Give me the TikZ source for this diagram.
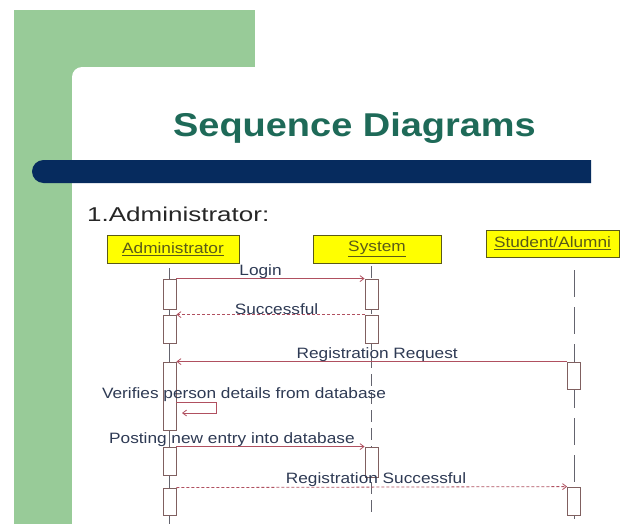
\documentclass[tikz,border=0pt]{standalone}
\usepackage{fontspec}
\setmainfont{Liberation Sans}
\newfontfamily\widesans[FakeStretch=1.15]{Liberation Sans}
\newfontfamily\widersans[FakeStretch=1.3]{Liberation Sans}
\usetikzlibrary{arrows.meta}
\tikzset{>={Straight Barb[length=4pt,width=6pt]}}
\definecolor{slgreen}{RGB}{152,203,152}
\definecolor{slnavy}{RGB}{6,43,94}
\definecolor{ttl}{RGB}{30,106,88}
\definecolor{ylw}{RGB}{255,255,0}
\definecolor{olv}{RGB}{90,90,24}
\definecolor{msgc}{RGB}{176,80,96}
\definecolor{actc}{RGB}{128,96,96}
\definecolor{txtc}{RGB}{46,58,84}
\definecolor{lifec}{RGB}{100,100,110}
\tikzset{head/.style={draw=olv, fill=ylw, line width=.8pt, inner sep=0pt,
  font=\widesans\fontsize{15}{15}\selectfont, text=olv}}
\tikzset{act/.style={draw=actc, fill=white, line width=.8pt, minimum width=13pt, inner sep=0pt}}
\tikzset{msg/.style={draw=msgc, line width=.8pt, ->}}
\tikzset{ret/.style={msg, dash pattern=on 3pt off 2pt}}
\tikzset{lbl/.style={text=txtc, font=\widesans\fontsize{15}{15}\selectfont, inner sep=0pt, above}}
\newcommand{\actbox}[4]{
	\node[act, minimum height=#4] (#1) at (#2, #3) {}
}

\begin{document}
\begin{tikzpicture}[x=1pt, y=-1pt]
    \useasboundingbox (0, 0) rectangle (621, 524);
    \fill[white] (0, 0) rectangle (621, 524);
    % slide frame
    \fill[slgreen] (14, 10) rectangle (255, 67);
    \fill[slgreen] (14, 10) rectangle (72, 524);
    \fill[slgreen] (72, 67) rectangle (82, 77);
    \fill[white] (82, 77) circle (10);
    \fill[slnavy] (591, 160) -- (43.5, 160) arc[start angle=270, end angle=90, radius=11.5] -- (591, 183) -- cycle;
    \node[text=ttl, font=\widesans\bfseries\fontsize{33}{33}\selectfont, anchor=base] (title) at (354.5, 137) {Sequence Diagrams};
    \node[text=black!85, font=\widersans\fontsize{20}{20}\selectfont, anchor=base west, inner sep=0pt] (sect) at (87, 221) {1.Administrator:};
    % lifelines
    \node[head, minimum width=132, minimum height=28] (admin) at (173, 249) {\underline{Administrator}};
    \node[head, minimum width=128, minimum height=28] (sys) at (377, 249) {\underline{System}};
    \node[head, minimum width=133, minimum height=27] (stud) at (552.5, 243.5) {\underline{Student/Alumni}};
    \coordinate (admtop) at (169.5, 268);
    \coordinate (admbot) at (169.5, 524);
    \coordinate (systop) at (371.5, 266);
    \coordinate (sysbot) at (371.5, 516);
    \coordinate (studtop) at (574, 270);
    \coordinate (studbot) at (574, 524);
    \draw[lifec, line width=.7pt] (admtop) -- (admbot);
    \draw[lifec, line width=.7pt, dash pattern=on 12pt off 6pt] (systop) -- (sysbot);
    \draw[lifec, line width=.7pt, dash pattern=on 27pt off 10pt] (studtop) -- (studbot);
    % activations
    \actbox{a1}{169.5}{294}{30};
    \actbox{a2}{169.5}{329}{28};
    \actbox{a3}{169.5}{396}{68};
    \actbox{a4}{169.5}{461}{28};
    \actbox{a5}{169.5}{501.5}{27};
    \actbox{s1}{371.5}{294}{30};
    \actbox{s2}{371.5}{329}{28};
    \actbox{s3}{371.5}{462}{30};
    \actbox{st1}{574}{375.5}{27};
    \actbox{st2}{574}{501}{28};
    % messages
    \draw[msg] (a1.north east) -- node[lbl, pos=.447]{Login} (s1.north west);
    \draw[ret] (s2.north west) -- node[lbl, pos=.468]{Successful} (a2.north east);
    \draw[msg] (st1.north west) -- node[lbl, pos=.486]{Registration Request} (a3.north east);
    \node[lbl, anchor=base] (vlbl) at (244, 398) {Verifies person details from database};
    \coordinate (sv1) at (216, 402);
    \coordinate (sv2) at (216, 413);
    \coordinate (sv3) at (182, 413);
    \draw[msg] (a3.east |- sv1) -- (sv1) -- (sv2) -- (sv3);
    \draw[msg] (a4.north east) -- node[lbl, pos=.295]{Posting new entry into database} (s3.north west);
    \draw[ret] (a5.north east) -- node[lbl, pos=.511]{Registration Successful} (st2.north west);
\end{tikzpicture}
\end{document}
